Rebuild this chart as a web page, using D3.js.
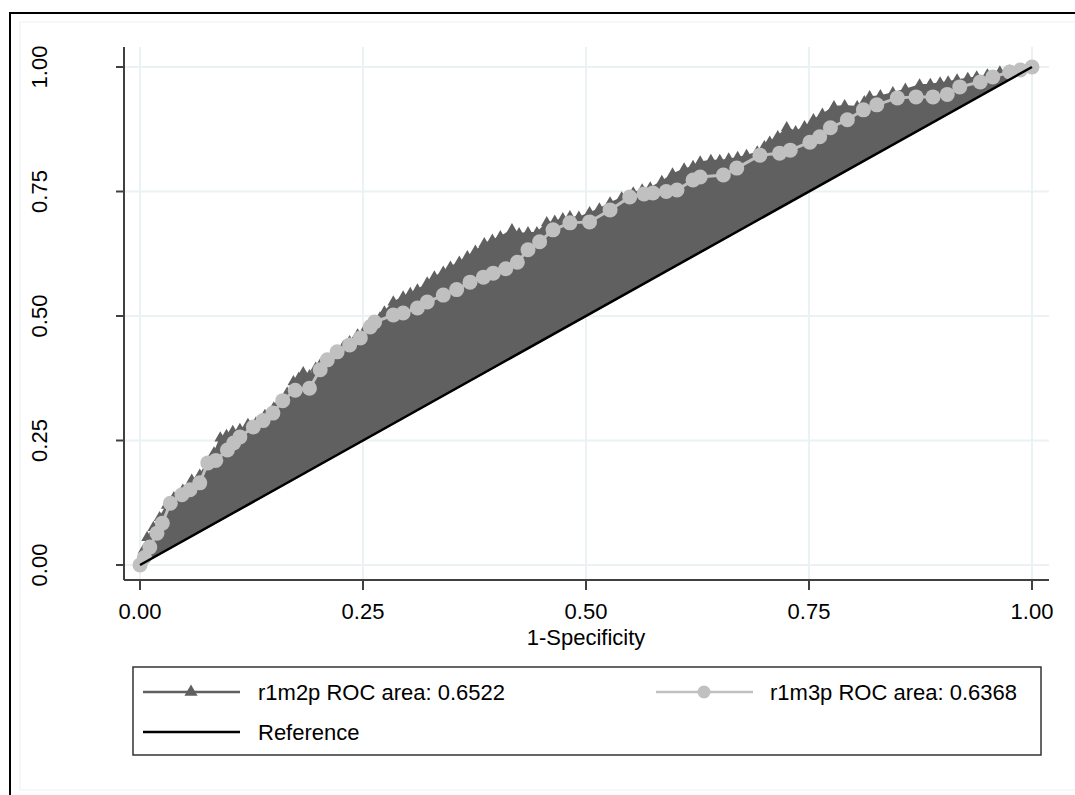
<!DOCTYPE html>
<html><head><meta charset="utf-8">
<script src="https://cdn.jsdelivr.net/npm/d3@7"></script>
<style>body{margin:0;background:#fff;}svg{display:block;font-family:"Liberation Sans",Arial,sans-serif;}</style>
</head><body><svg id="c" width="1075" height="795"></svg>
<script>
const xTicks = [0, 0.25, 0.5, 0.75, 1];
const yTicks = [0, 0.25, 0.5, 0.75, 1];
const tickLabels = ["0.00", "0.25", "0.50", "0.75", "1.00"];
const xTitle = "1-Specificity";
const seriesNames = ["r1m2p ROC area: 0.6522", "r1m3p ROC area: 0.6368", "Reference"];

const fpr2 = [0,0.004,0.008,0.015,0.022,0.030,0.038,0.048,0.058,0.067,0.075,0.083,0.090,0.097,0.104,0.112,0.121,0.130,0.140,0.150,0.157,0.165,0.172,0.178,0.183,0.190,0.197,0.202,0.210,0.221,0.228,0.235,0.244,0.254,0.262,0.269,0.274,0.284,0.295,0.303,0.311,0.322,0.330,0.340,0.348,0.358,0.367,0.376,0.386,0.395,0.404,0.417,0.425,0.435,0.445,0.456,0.465,0.474,0.482,0.492,0.504,0.515,0.527,0.540,0.553,0.563,0.572,0.585,0.597,0.610,0.620,0.628,0.640,0.650,0.660,0.670,0.680,0.692,0.700,0.706,0.715,0.725,0.735,0.745,0.755,0.765,0.778,0.790,0.804,0.812,0.818,0.830,0.844,0.858,0.874,0.886,0.897,0.906,0.916,0.928,0.938,0.950,0.964,0.975,0.988,1];
const tpr2 = [0,0.030,0.055,0.075,0.095,0.120,0.135,0.150,0.170,0.180,0.205,0.225,0.255,0.260,0.268,0.272,0.282,0.285,0.300,0.315,0.328,0.345,0.368,0.375,0.386,0.380,0.395,0.402,0.412,0.428,0.438,0.448,0.462,0.478,0.488,0.496,0.508,0.528,0.538,0.545,0.552,0.566,0.578,0.588,0.598,0.608,0.619,0.630,0.645,0.652,0.659,0.673,0.665,0.667,0.667,0.687,0.690,0.695,0.699,0.698,0.707,0.715,0.727,0.737,0.747,0.753,0.757,0.770,0.785,0.795,0.800,0.809,0.812,0.812,0.815,0.818,0.822,0.829,0.840,0.849,0.860,0.878,0.870,0.880,0.894,0.905,0.920,0.922,0.920,0.930,0.940,0.942,0.948,0.955,0.964,0.965,0.968,0.970,0.974,0.977,0.980,0.984,0.990,0.992,0.995,1];

const fpr3 = [0,0.005,0.011,0.019,0.025,0.034,0.047,0.056,0.067,0.076,0.085,0.098,0.105,0.112,0.127,0.138,0.149,0.160,0.174,0.190,0.202,0.210,0.221,0.235,0.247,0.258,0.263,0.284,0.295,0.311,0.322,0.340,0.355,0.370,0.385,0.396,0.410,0.423,0.435,0.448,0.463,0.482,0.504,0.527,0.549,0.565,0.575,0.590,0.602,0.620,0.628,0.654,0.669,0.695,0.717,0.729,0.751,0.762,0.774,0.793,0.811,0.826,0.849,0.870,0.889,0.905,0.919,0.942,0.956,0.975,0.987,1];
const tpr3 = [0,0.015,0.036,0.064,0.084,0.124,0.141,0.151,0.165,0.205,0.210,0.231,0.245,0.257,0.277,0.290,0.305,0.330,0.351,0.355,0.392,0.412,0.428,0.442,0.456,0.478,0.488,0.502,0.506,0.516,0.528,0.542,0.553,0.568,0.578,0.586,0.595,0.608,0.633,0.649,0.673,0.687,0.689,0.713,0.739,0.745,0.747,0.750,0.753,0.773,0.779,0.783,0.797,0.823,0.827,0.833,0.849,0.860,0.878,0.894,0.914,0.924,0.938,0.940,0.940,0.945,0.960,0.970,0.980,0.990,0.994,1];

const refLine = [0, 1];

const dark = "#606060", light = "#c0c0c0", grid = "#eaf2f3", axisCol = "#404040";
const svg = d3.select("#c");
svg.append("rect").attr("width",1075).attr("height",795).attr("fill","#fff");
svg.append("rect").attr("x",10).attr("y",13).attr("width",1100).attr("height",820).attr("fill","none").attr("stroke","#000").attr("stroke-width",2);
svg.append("rect").attr("x",20).attr("y",22).attr("width",1080).attr("height",768).attr("fill","none").attr("stroke",grid).attr("stroke-width",1);

const x = d3.scaleLinear().domain([0,1]).range([140,1032]);
const y = d3.scaleLinear().domain([0,1]).range([565,67]);
const L = 124, R = 1049, T = 47, B = 580;

svg.append("g").selectAll("line").data(yTicks).join("line")
  .attr("x1",L).attr("x2",R).attr("y1",d=>y(d)).attr("y2",d=>y(d)).attr("stroke",grid).attr("stroke-width",2);
svg.append("g").selectAll("line").data(xTicks).join("line")
  .attr("y1",T).attr("y2",B).attr("x1",d=>x(d)).attr("x2",d=>x(d)).attr("stroke",grid).attr("stroke-width",2);

const d2 = fpr2.map((f,i)=>({f, t:tpr2[i]}));
const area = d3.area().x(d=>x(d.f)).y0(d=>y(d.f)).y1(d=>y(d.t));
svg.append("path").datum(d2).attr("d",area).attr("fill",dark).attr("stroke",dark).attr("stroke-width",1.5);
const tri = d3.symbol().type(d3.symbolTriangle).size(60);
svg.append("g").selectAll("path").data(d2).join("path")
  .attr("d",tri).attr("transform",d=>`translate(${x(d.f)},${y(d.t)})`).attr("fill",dark);

const d3s = fpr3.map((f,i)=>({f, t:tpr3[i]}));
svg.append("path").datum(d3s).attr("d",d3.line().x(d=>x(d.f)).y(d=>y(d.t))).attr("fill","none").attr("stroke",light).attr("stroke-width",3);
svg.append("g").selectAll("circle").data(d3s).join("circle")
  .attr("cx",d=>x(d.f)).attr("cy",d=>y(d.t)).attr("r",7.5).attr("fill",light);

svg.append("line").attr("x1",x(refLine[0])).attr("y1",y(refLine[0])).attr("x2",x(refLine[1])).attr("y2",y(refLine[1]))
  .attr("stroke","#000").attr("stroke-width",2.5);

svg.append("line").attr("x1",L).attr("x2",L).attr("y1",T).attr("y2",B).attr("stroke",axisCol).attr("stroke-width",2);
svg.append("line").attr("x1",L).attr("x2",R).attr("y1",B).attr("y2",B).attr("stroke",axisCol).attr("stroke-width",2);
svg.append("g").selectAll("line").data(xTicks).join("line")
  .attr("x1",d=>x(d)).attr("x2",d=>x(d)).attr("y1",B).attr("y2",B+10).attr("stroke",axisCol).attr("stroke-width",2);
svg.append("g").selectAll("line").data(yTicks).join("line")
  .attr("y1",d=>y(d)).attr("y2",d=>y(d)).attr("x1",L-8).attr("x2",L).attr("stroke",axisCol).attr("stroke-width",2);

const fs = 22;
svg.append("g").selectAll("text").data(xTicks).join("text")
  .attr("x",d=>x(d)).attr("y",619).attr("text-anchor","middle").attr("font-size",fs).attr("fill","#000")
  .text((d,i)=>tickLabels[i]);
svg.append("g").selectAll("text").data(yTicks).join("text")
  .attr("transform",d=>`translate(47,${y(d)}) rotate(-90)`).attr("text-anchor","middle").attr("font-size",fs).attr("fill","#000")
  .text((d,i)=>tickLabels[i]);
svg.append("text").attr("x",(x(0)+x(1))/2).attr("y",645).attr("text-anchor","middle").attr("font-size",fs).text(xTitle);

svg.append("rect").attr("x",133).attr("y",667).attr("width",908).attr("height",88).attr("fill","#fff").attr("stroke","#333").attr("stroke-width",1.5);
const r1 = 692, r2 = 732;
svg.append("line").attr("x1",143).attr("x2",240).attr("y1",r1).attr("y2",r1).attr("stroke",dark).attr("stroke-width",2.5);
svg.append("path").attr("d",d3.symbol().type(d3.symbolTriangle).size(75)()).attr("transform",`translate(191,${r1})`).attr("fill",dark);
svg.append("text").attr("x",258).attr("y",r1+8).attr("font-size",fs).text(seriesNames[0]);
svg.append("line").attr("x1",656).attr("x2",753).attr("y1",r1).attr("y2",r1).attr("stroke",light).attr("stroke-width",2.5);
svg.append("circle").attr("cx",704).attr("cy",r1).attr("r",6.5).attr("fill",light);
svg.append("text").attr("x",770).attr("y",r1+8).attr("font-size",fs).text(seriesNames[1]);
svg.append("line").attr("x1",143).attr("x2",240).attr("y1",r2).attr("y2",r2).attr("stroke","#000").attr("stroke-width",2.5);
svg.append("text").attr("x",258).attr("y",r2+8).attr("font-size",fs).text(seriesNames[2]);
</script></body></html>
